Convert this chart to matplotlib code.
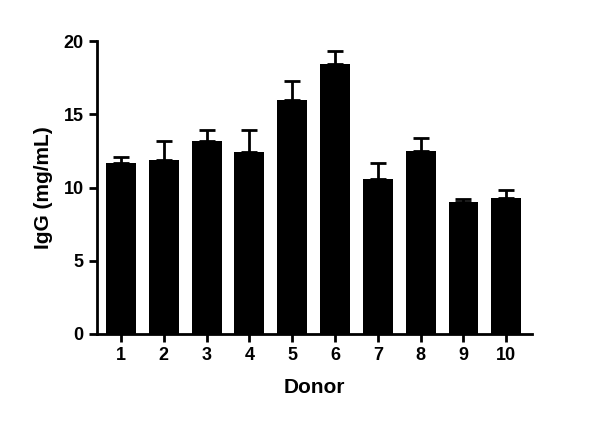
import numpy as np
import matplotlib
matplotlib.use("Agg")
import matplotlib.pyplot as plt

donors = ["1", "2", "3", "4", "5", "6", "7", "8", "9", "10"]
igg = [11.7, 11.9, 13.2, 12.4, 16.0, 18.4, 10.6, 12.5, 9.0, 9.3]
sem = [0.4, 1.3, 0.7, 1.5, 1.3, 0.9, 1.1, 0.9, 0.2, 0.5]

plt.rcParams['font.family'] = ['Liberation Sans', 'DejaVu Sans']
fig = plt.figure(figsize=(6, 4.3), dpi=100)
ax = fig.add_axes([97/600, 1-334/430, 435/600, 293/430])

x = np.arange(1, len(donors) + 1)
ax.bar(x, igg, width=0.7, color='black', zorder=2)
ax.errorbar(x, igg, yerr=[np.zeros(len(sem)), sem], fmt='none', ecolor='black',
            elinewidth=2, capsize=6, capthick=2, zorder=1)

ax.set_xlim(0.44, 10.6)
ax.set_ylim(0, 20)
ax.set_yticks([0, 5, 10, 15, 20])
ax.set_xticks(x)
ax.set_xticklabels(donors)
for s in ['top', 'right']:
    ax.spines[s].set_visible(False)
for s in ['left', 'bottom']:
    ax.spines[s].set_linewidth(2)
ax.tick_params(width=2, length=6, direction='out', labelsize=13)
for lbl in ax.get_xticklabels() + ax.get_yticklabels():
    lbl.set_fontweight('bold')
ax.set_xlabel('Donor', fontsize=15, fontweight='bold', labelpad=10)
ax.set_ylabel('IgG (mg/mL)', fontsize=15, fontweight='bold', labelpad=8)

fig.savefig('out.png', dpi=100)
